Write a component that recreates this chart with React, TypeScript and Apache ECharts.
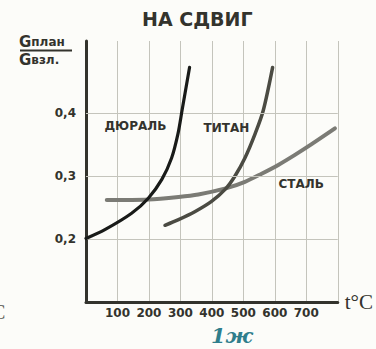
import React, { useEffect, useRef } from "react";
import * as echarts from "echarts";

// Temperature (°C) and stress ratio σплан/σвзл for each alloy
const duralTemp = [0, 60, 145, 198, 241, 272, 292, 305, 329];
const duralRatio = [0.201, 0.215, 0.241, 0.265, 0.295, 0.329, 0.367, 0.404, 0.473];

const titanTemp = [251, 294, 347, 399, 442, 473, 505, 537, 563, 593];
const titanRatio = [0.222, 0.231, 0.244, 0.26, 0.279, 0.3, 0.329, 0.367, 0.404, 0.473];

const steelTemp = [66, 198, 294, 357, 447, 505, 558, 611, 664, 717, 791];
const steelRatio = [0.262, 0.263, 0.267, 0.271, 0.281, 0.291, 0.304, 0.318, 0.334, 0.351, 0.376];

const xTickLabels = ["100", "200", "300", "400", "500", "600", "700"];
const yTickLabels = ["0,2", "0,3", "0,4"];
const yGridLines = [0.2, 0.3, 0.4];

// Curve names and where their captions sit (data coordinates)
const curveNames = ["ДЮРАЛЬ", "ТИТАН", "СТАЛЬ"];
const captionAt: [number, number][] = [
  [157, 0.38],
  [446, 0.377],
  [684, 0.287],
];

const INK = "#33332d";
const GRID = "#c4c4bc";
const LABEL_FONT = "DejaVu Sans";

function pairs(xs: number[], ys: number[]) {
  return xs.map((x, i) => [x, ys[i]]);
}

function caption(i: number) {
  return {
    symbol: "circle",
    symbolSize: 0,
    silent: true,
    label: {
      show: true,
      position: "inside",
      formatter: curveNames[i],
      color: INK,
      fontFamily: LABEL_FONT,
      fontWeight: "bold",
      fontSize: 12,
    },
    data: [{ coord: captionAt[i] }],
  };
}

const fracRich = {
  g: { fontSize: 15, fontWeight: "bold", fill: INK, fontFamily: LABEL_FONT, lineHeight: 15 },
  s: { fontSize: 12, fontWeight: "bold", fill: INK, fontFamily: LABEL_FONT, lineHeight: 15 },
};

export default function App() {
  const ref = useRef<HTMLDivElement>(null);

  useEffect(() => {
    if (!ref.current) return;
    const chart = echarts.init(ref.current, null, { renderer: "svg" });
    const yMax = 0.515;

    chart.setOption({
      animation: false,
      backgroundColor: "#fcfcf9",
      grid: { left: 86, right: 38, top: 41, bottom: 47 },
      graphic: [
        {
          type: "text",
          left: 142,
          top: 9,
          style: {
            text: "НА СДВИГ",
            fill: INK,
            font: `bold 19px "${LABEL_FONT}"`,
          },
        },
        {
          type: "text",
          left: 19,
          top: 34,
          style: { text: "{g|G}{s|план}", rich: fracRich },
        },
        {
          type: "line",
          shape: { x1: 20, y1: 50.5, x2: 72, y2: 50.5 },
          style: { stroke: INK, lineWidth: 2 },
        },
        {
          type: "text",
          left: 19,
          top: 52,
          style: { text: "{g|G}{s|взл.}", rich: fracRich },
        },
        {
          type: "text",
          left: -8,
          top: 302,
          style: { text: "С", fill: "#55554f", font: '20px "Liberation Serif"' },
        },
        {
          type: "text",
          left: 211,
          top: 325,
          style: {
            text: "1ж",
            fill: "#2f7e8c",
            font: 'italic bold 21px "DejaVu Serif"',
          },
        },
      ],
      xAxis: {
        type: "value",
        min: 0,
        max: 800,
        interval: 100,
        name: "t°C",
        nameLocation: "end",
        nameGap: 7,
        nameTextStyle: {
          color: INK,
          fontFamily: "Liberation Serif",
          fontSize: 21,
          verticalAlign: "middle",
          padding: [4, 0, 0, 0],
        },
        axisLine: { lineStyle: { color: INK, width: 3 } },
        axisTick: { show: false },
        axisLabel: {
          margin: 5,
          color: INK,
          fontFamily: LABEL_FONT,
          fontWeight: "bold",
          fontSize: 12,
          formatter: (v: number) => {
            const s = String(Math.round(v));
            return xTickLabels.includes(s) ? s : "";
          },
        },
        splitLine: { show: true, lineStyle: { color: GRID, width: 1 } },
      },
      yAxis: {
        type: "value",
        min: 0.1,
        max: yMax,
        interval: 0.1,
        axisLine: { show: true, lineStyle: { color: INK, width: 3 } },
        axisTick: { show: false },
        axisLabel: {
          margin: 10,
          color: INK,
          fontFamily: LABEL_FONT,
          fontWeight: "bold",
          fontSize: 12,
          formatter: (v: number) => {
            const s = (Math.round(v * 10) / 10).toFixed(1).replace(".", ",");
            return yTickLabels.includes(s) ? s : "";
          },
        },
        splitLine: { show: false },
      },
      series: [
        {
          // horizontal rules of the grid paper and its top edge
          type: "line",
          data: [],
          z: 1,
          silent: true,
          markLine: {
            silent: true,
            symbol: "none",
            label: { show: false },
            lineStyle: { color: GRID, width: 1, type: "solid" },
            data: [...yGridLines, yMax].map((v) => ({ yAxis: v })),
          },
        },
        {
          name: curveNames[2],
          type: "line",
          data: pairs(steelTemp, steelRatio),
          smooth: 0.3,
          symbol: "none",
          z: 3,
          lineStyle: { color: "#7b7b75", width: 4, cap: "round" },
          markPoint: caption(2),
        },
        {
          name: curveNames[1],
          type: "line",
          data: pairs(titanTemp, titanRatio),
          smooth: 0.3,
          symbol: "none",
          z: 4,
          lineStyle: { color: "#4b4b43", width: 3.5, cap: "round" },
          markPoint: caption(1),
        },
        {
          name: curveNames[0],
          type: "line",
          data: pairs(duralTemp, duralRatio),
          smooth: 0.3,
          symbol: "none",
          z: 5,
          lineStyle: { color: "#191b19", width: 3.2, cap: "round" },
          markPoint: caption(0),
        },
      ],
    });

    return () => chart.dispose();
  }, []);

  return (
    <div
      ref={ref}
      style={{ position: "fixed", left: 0, top: 0, width: 376, height: 349 }}
    />
  );
}
